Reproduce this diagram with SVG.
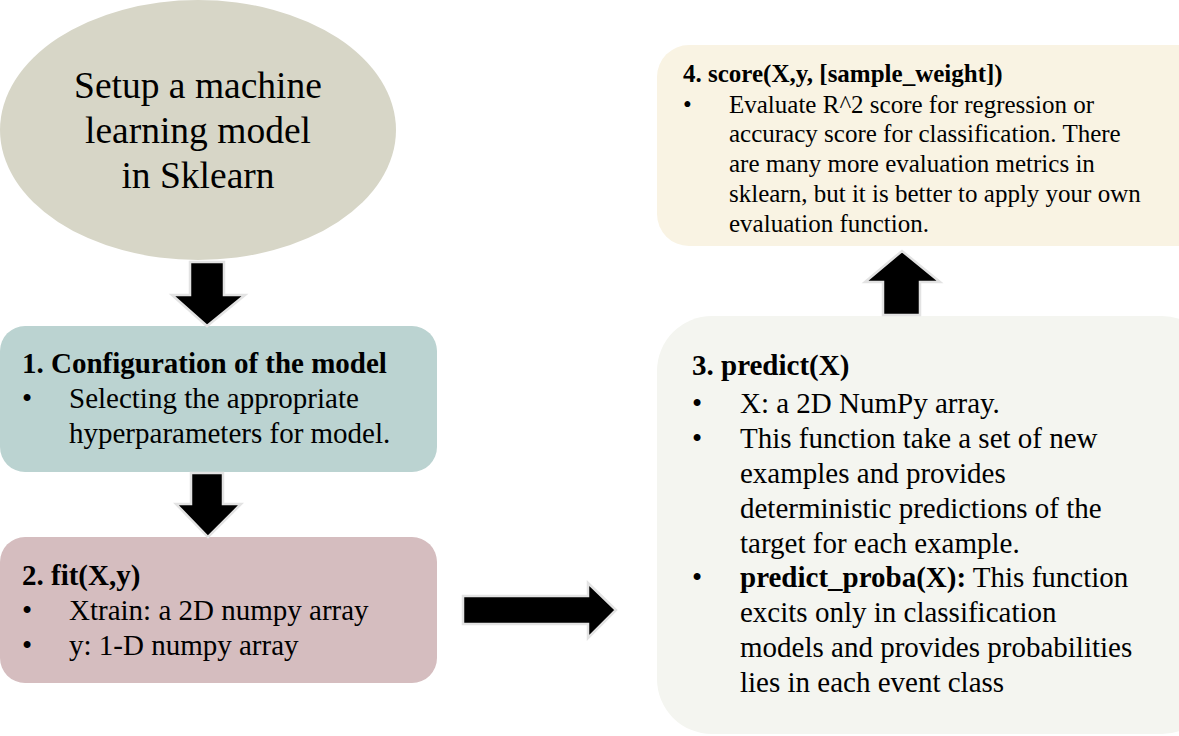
<svg xmlns="http://www.w3.org/2000/svg" width="1179" height="736" viewBox="0 0 1179 736">
<style>
text{font-family:"Liberation Serif","Times New Roman",serif;fill:#000}
.b{font-weight:bold}
.t29{font-size:29px}
.t25{font-size:25px}
.arr{fill:#000;stroke:#E3E3E3;stroke-width:2.5}
</style>
<rect width="1179" height="736" fill="#fff"/>
<g id="setup">
<ellipse cx="198" cy="130" rx="198" ry="130" fill="#D7D6C7"/>
<text x="198" y="98" font-size="37.5" text-anchor="middle">Setup a machine</text>
<text x="198" y="143" font-size="37.5" text-anchor="middle">learning model</text>
<text x="198" y="188" font-size="37.5" text-anchor="middle">in Sklearn</text>
</g>
<g id="config">
<rect x="0" y="326" width="437" height="146" rx="25" fill="#BBD3D1"/>
<text x="22" y="373" class="t29 b">1. Configuration of the model</text>
<text x="22" y="408" class="t29">•</text>
<text x="69" y="408" class="t29">Selecting the appropriate</text>
<text x="69" y="443" class="t29">hyperparameters for model.</text>
</g>
<g id="fit">
<rect x="0" y="537" width="437" height="146" rx="25" fill="#D5BDBF"/>
<text x="22" y="585" class="t29 b">2. fit(X,y)</text>
<text x="22" y="620" class="t29">•</text>
<text x="69" y="620" class="t29">Xtrain: a 2D numpy array</text>
<text x="22" y="655" class="t29">•</text>
<text x="69" y="655" class="t29">y: 1-D numpy array</text>
</g>
<g id="predict">
<rect x="657" y="316" width="560" height="418" rx="55" fill="#F4F5F0"/>
<text x="692" y="375" class="t29 b">3. predict(X)</text>
<text x="692" y="413" class="t29">•</text>
<text x="740" y="413" class="t29">X: a 2D NumPy array.</text>
<text x="692" y="448" class="t29">•</text>
<text x="740" y="448" class="t29">This function take a set of new</text>
<text x="740" y="483" class="t29">examples and provides</text>
<text x="740" y="518" class="t29">deterministic predictions of the</text>
<text x="740" y="553" class="t29">target for each example.</text>
<text x="692" y="587" class="t29">•</text>
<text x="740" y="587" class="t29"><tspan class="b">predict_proba(X):</tspan> This function</text>
<text x="740" y="622" class="t29">excits only in classification</text>
<text x="740" y="657" class="t29">models and provides probabilities</text>
<text x="740" y="692" class="t29">lies in each event class</text>
</g>
<g id="score">
<rect x="657" y="45" width="560" height="201" rx="32" fill="#F9F3E3"/>
<text x="683" y="82" class="t25 b">4. score(X,y, [sample_weight])</text>
<text x="683" y="113" class="t25">•</text>
<text x="729" y="113" class="t25">Evaluate R^2 score for regression or</text>
<text x="729" y="142" class="t25">accuracy score for classification. There</text>
<text x="729" y="172" class="t25">are many more evaluation metrics in</text>
<text x="729" y="202" class="t25">sklearn, but it is better to apply your own</text>
<text x="729" y="232" class="t25">evaluation function.</text>
</g>
<g id="connectors">
<polygon class="arr" points="190,262 224,262 224,295 245,295 207,326 172,295 190,295"/>
<polygon class="arr" points="191,473 223,473 223,504 241,504 208,537 176,504 191,504"/>
<polygon class="arr" points="463,596 588,596 588,583 616,610 588,638 588,624 463,624"/>
<polygon class="arr" points="883,315 920,315 920,282 940,282 902,251 865,282 883,282"/>
</g>
</svg>
